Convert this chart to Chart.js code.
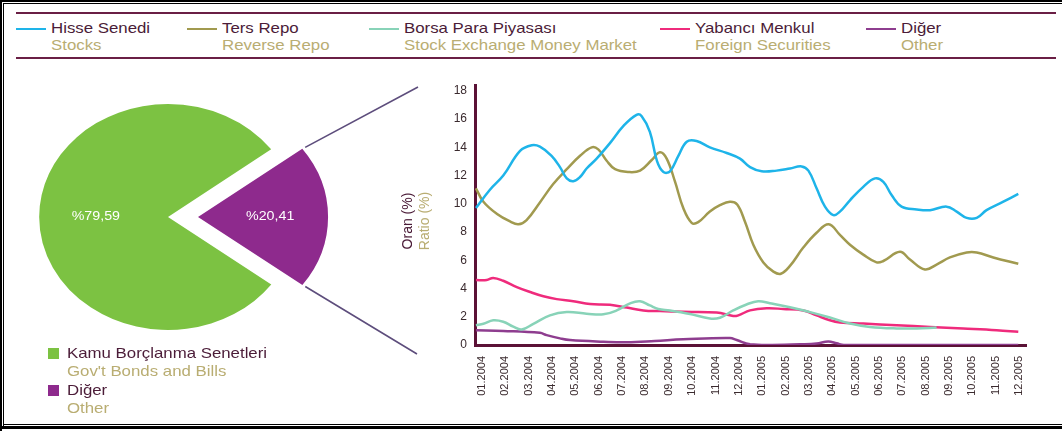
<!DOCTYPE html>
<html>
<head>
<meta charset="utf-8">
<script src="https://cdn.jsdelivr.net/npm/chart.js@4.4.1/dist/chart.umd.min.js"></script>
<style>
  body { margin: 0; background: #fff; font-family: "Liberation Sans", Arial, sans-serif; }
  #page { position: relative; width: 1062px; height: 431px; overflow: hidden; background: #fff; }
  .rule { position: absolute; background: #000; }
  .band { position: absolute; left: 16px; width: 1040px; height: 2px; background: #6a1f45; }
  .key { position: absolute; height: 2px; top: 28px; }
  .t1, .t2 { position: absolute; font-size: 14.5px; line-height: 17px; white-space: nowrap;
    transform: scaleX(1.16); transform-origin: 0 50%; }
  .t1 { color: #4b1c38; }
  .t2 { color: #b9ad72; }
  .sq { position: absolute; width: 11px; height: 11px; }
  #pieBox { position: absolute; left: 0; top: 70px; width: 430px; height: 290px; }
  #lineBox { position: absolute; left: 440px; top: 78px; width: 600px; height: 352px; }
  #yTitle { position: absolute; left: 416px; top: 221px; width: 120px; transform: translate(-50%, -50%) rotate(-90deg);
    text-align: center; font-size: 14px; line-height: 17px; }
</style>
</head>
<body>
<div id="page">
  <div class="rule" style="left:0;top:0;width:1062px;height:2px"></div>
  <div class="rule" style="left:3px;top:3px;width:1059px;height:1px"></div>
  <div class="rule" style="left:0;top:0;width:2px;height:431px"></div>
  <div class="rule" style="left:3px;top:3px;width:1px;height:424px"></div>
  <div class="rule" style="left:3px;top:424px;width:1059px;height:1px"></div>
  <div class="rule" style="left:0;top:426px;width:1062px;height:3px"></div>

  <div class="band" style="top:12px"></div>
  <div class="band" style="top:57px"></div>
  <div id="legend"></div>

  <div id="pieBox"><canvas id="pie"></canvas></div>
  <div id="pieLegend"></div>

  <div id="yTitle"><span style="color:#4b1c38">Oran (%)</span><br><span style="color:#b9ad72">Ratio (%)</span></div>
  <div id="lineBox"><canvas id="lines"></canvas></div>
</div>

<script>
// monthly tick labels
const months = [
  "01.2004", "02.2004", "03.2004", "04.2004", "05.2004", "06.2004",
  "07.2004", "08.2004", "09.2004", "10.2004", "11.2004", "12.2004",
  "01.2005", "02.2005", "03.2005", "04.2005", "05.2005", "06.2005",
  "07.2005", "08.2005", "09.2005", "10.2005", "11.2005", "12.2005",
];
const yTicks = [0, 2, 4, 6, 8, 10, 12, 14, 16, 18];

// [month position, ratio %] — month position 0 = 01.2004
const stocks = [
  [-0.26, 9.7], [0.34, 11.0], [0.91, 12.0], [1.63, 13.75], [2.13, 14.15], [2.48, 14.05],
  [2.98, 13.4], [3.34, 12.6], [3.63, 11.8], [3.91, 11.6], [4.2, 11.9], [4.48, 12.5],
  [4.91, 13.2], [5.48, 14.3], [6.05, 15.5], [6.62, 16.3], [6.84, 16.2], [7.19, 15.1],
  [7.5, 13.0], [7.77, 12.25], [8.05, 12.3], [8.41, 13.4], [8.77, 14.4], [9.19, 14.45],
  [9.76, 14.0], [10.48, 13.6], [11.05, 13.2], [11.48, 12.6], [11.98, 12.3], [12.62, 12.35],
  [13.19, 12.5], [13.69, 12.65], [13.98, 12.35], [14.33, 11.1], [14.69, 9.8], [15.05, 9.2],
  [15.33, 9.45], [15.76, 10.25], [16.33, 11.2], [16.83, 11.8], [17.19, 11.55], [17.55, 10.6],
  [17.97, 9.8], [18.62, 9.6], [19.19, 9.55], [19.9, 9.8], [20.33, 9.45], [20.76, 9.0],
  [21.19, 9.0], [21.61, 9.55], [22.33, 10.15], [22.97, 10.7],
];
const reverseRepo = [
  [-0.26, 11.1], [0.06, 10.15], [0.63, 9.3], [1.2, 8.75], [1.56, 8.55], [1.91, 8.85],
  [2.48, 10.1], [3.05, 11.4], [3.63, 12.45], [4.2, 13.4], [4.7, 14.0], [4.98, 13.85],
  [5.34, 13.05], [5.7, 12.45], [6.27, 12.25], [6.77, 12.35], [7.27, 13.1], [7.62, 13.65],
  [7.91, 13.2], [8.27, 11.55], [8.62, 9.7], [8.98, 8.65], [9.26, 8.7], [9.76, 9.45],
  [10.19, 9.9], [10.62, 10.15], [10.93, 9.95], [11.26, 8.75], [11.62, 7.1], [12.05, 5.85],
  [12.48, 5.2], [12.8, 5.05], [13.19, 5.6], [13.76, 6.9], [14.33, 7.95], [14.85, 8.55],
  [15.33, 7.8], [15.76, 7.1], [16.33, 6.4], [16.9, 5.85], [17.19, 5.95], [17.9, 6.6],
  [18.33, 6.05], [18.97, 5.35], [19.47, 5.7], [20.04, 6.2], [20.76, 6.55], [21.19, 6.55],
  [21.9, 6.2], [22.97, 5.75],
];
const moneyMarket = [
  [-0.26, 1.4], [0.06, 1.5], [0.48, 1.75], [0.91, 1.65], [1.34, 1.3], [1.7, 1.1],
  [2.2, 1.5], [2.91, 2.1], [3.63, 2.33], [4.48, 2.22], [5.2, 2.17], [5.77, 2.45],
  [6.34, 2.95], [6.77, 3.1], [7.19, 2.8], [7.55, 2.55], [8.05, 2.45], [8.91, 2.2],
  [9.76, 1.87], [10.19, 1.93], [10.76, 2.45], [11.33, 2.87], [11.83, 3.1], [12.33, 2.96],
  [13.19, 2.68], [14.05, 2.33], [14.9, 1.95], [15.76, 1.52], [16.62, 1.28], [17.76, 1.17],
  [18.62, 1.17], [19.47, 1.24],
];
const foreignSec = [
  [-0.26, 4.6], [0.2, 4.6], [0.48, 4.75], [0.91, 4.55], [1.49, 4.1], [2.06, 3.75],
  [2.63, 3.45], [3.2, 3.25], [3.91, 3.1], [4.63, 2.9], [5.48, 2.85], [6.2, 2.65],
  [6.91, 2.45], [7.62, 2.4], [8.62, 2.35], [10.05, 2.3], [10.76, 2.05], [10.98, 2.1],
  [11.48, 2.45], [12.19, 2.6], [12.9, 2.55], [13.76, 2.45], [14.33, 2.1], [14.9, 1.75],
  [15.33, 1.6], [16.33, 1.52], [17.76, 1.4], [19.19, 1.28], [20.61, 1.17], [22.04, 1.05],
  [22.97, 0.93],
];
const other = [
  [-0.26, 1.05], [0.91, 1.0], [2.48, 0.86], [2.77, 0.7], [3.34, 0.47], [3.77, 0.35],
  [5.2, 0.23], [6.2, 0.19], [7.4, 0.28], [8.62, 0.4], [10.62, 0.5], [10.91, 0.35],
  [11.48, 0.05], [12.19, 0], [13.62, 0.05], [14.33, 0.1], [14.83, 0.25], [15.19, 0.12],
  [15.5, 0], [22.97, 0],
];

// portfolio split shown in the pie
const pieNames = ["Kamu Borçlanma Senetleri", "Diğer"];
const pieNamesEn = ["Gov't Bonds and Bills", "Other"];
const pieValues = [79.59, 20.41];
const pieColors = ["#7cc242", "#8e2a8d"];

const series = [
  { tr: "Hisse Senedi", en: "Stocks", data: stocks, color: "#1eb4e9", text: 51 },
  { tr: "Ters Repo", en: "Reverse Repo", data: reverseRepo, color: "#a19a4f", text: 222 },
  { tr: "Borsa Para Piyasası", en: "Stock Exchange Money Market", data: moneyMarket, color: "#88d3b8", text: 404 },
  { tr: "Yabancı Menkul", en: "Foreign Securities", data: foreignSec, color: "#ef2b7c", text: 695 },
  { tr: "Diğer", en: "Other", data: other, color: "#8e3d8f", text: 901 },
];

// top legend: short line sample, Turkish name, English name
const legend = document.getElementById("legend");
series.forEach((s) => {
  legend.insertAdjacentHTML("beforeend",
    `<div class="key" style="left:${s.text - 35}px;width:30px;background:${s.color}"></div>` +
    `<div class="t1" style="left:${s.text}px;top:20px">${s.tr}</div>` +
    `<div class="t2" style="left:${s.text}px;top:37px">${s.en}</div>`);
});

// pie legend
const pieLegend = document.getElementById("pieLegend");
pieNames.forEach((name, i) => {
  const top = 345 + i * 37;
  pieLegend.insertAdjacentHTML("beforeend",
    `<div class="sq" style="left:48px;top:${top + 3}px;background:${pieColors[i]}"></div>` +
    `<div class="t1" style="left:67px;top:${top}px">${name}</div>` +
    `<div class="t2" style="left:67px;top:${top + 18}px">${pieNamesEn[i]}</div>`);
});

// the pie is drawn horizontally stretched into an ellipse
const pieStretch = 1.14;
const pieShift = 30;

const pieExtras = {
  id: "pieExtras",
  beforeDatasetsDraw(chart) {
    const ctx = chart.ctx;
    const cx = chart.getDatasetMeta(0).data[0].x;
    ctx.save();
    ctx.translate(cx, 0);
    ctx.scale(pieStretch, 1);
    ctx.translate(-cx, 0);
  },
  afterDatasetsDraw(chart) {
    const ctx = chart.ctx;
    ctx.restore();
    const arcs = chart.getDatasetMeta(0).data;
    const cx = arcs[0].x;
    const sx = (x) => cx + (x - cx) * pieStretch;
    ctx.save();
    arcs.forEach((arc, i) => {
      const mid = (arc.startAngle + arc.endAngle) / 2;
      const shift = (arc.options.offset || 0) / 4;
      const ox = arc.x + Math.cos(mid) * shift;
      const oy = arc.y + Math.sin(mid) * shift;
      const r = arc.outerRadius;

      const label = "%" + pieValues[i].toFixed(2).replace(".", ",");
      ctx.save();
      ctx.translate(sx(ox + Math.cos(mid) * r * 0.56), oy + Math.sin(mid) * r * 0.56);
      ctx.scale(pieStretch, 1);
      ctx.fillStyle = "#fff";
      ctx.font = "12.5px 'Liberation Sans', Arial, sans-serif";
      ctx.textAlign = "center";
      ctx.textBaseline = "middle";
      ctx.fillText(label, 0, 0);
      ctx.restore();

      if (i === 1) {
        const ax = sx(ox + Math.cos(arc.startAngle) * r), ay = oy + Math.sin(arc.startAngle) * r;
        const bx = sx(ox + Math.cos(arc.endAngle) * r), by = oy + Math.sin(arc.endAngle) * r;
        ctx.strokeStyle = "#5d4d7c";
        ctx.lineWidth = 1.6;
        ctx.beginPath();
        ctx.moveTo(ax + 4, ay - 2);
        ctx.lineTo(418, 17);
        ctx.moveTo(bx + 4, by + 2);
        ctx.lineTo(417, 284);
        ctx.stroke();
      }
    });
    ctx.restore();
  },
};

new Chart(document.getElementById("pie"), {
  type: "pie",
  data: {
    labels: pieNames,
    datasets: [{
      data: pieValues,
      backgroundColor: pieColors,
      borderWidth: 0,
      offset: [0, (4 * pieShift) / pieStretch],
      hoverOffset: 0,
    }],
  },
  options: {
    responsive: true,
    maintainAspectRatio: false,
    animation: false,
    radius: 113,
    rotation: 126.7,
    layout: { padding: { left: 0, top: 4, right: 94, bottom: 0 } },
    plugins: { legend: { display: false }, tooltip: { enabled: false } },
  },
  plugins: [pieExtras],
});

const axisColor = "#5b1236";
const tickFont = { family: "'Liberation Sans', Arial, sans-serif", size: 11 };

new Chart(document.getElementById("lines"), {
  type: "line",
  data: {
    datasets: series.map((s) => ({
      label: s.tr,
      data: s.data.map(([x, y]) => ({ x, y })),
      borderColor: s.color,
      borderWidth: 2.5,
      pointRadius: 0,
      tension: 0.4,
      fill: false,
    })),
  },
  options: {
    responsive: true,
    maintainAspectRatio: false,
    animation: false,
    layout: { padding: { left: 0, top: 4, right: 14, bottom: 0 } },
    plugins: { legend: { display: false }, tooltip: { enabled: false } },
    scales: {
      x: {
        type: "linear",
        min: -0.3,
        max: 23.3,
        afterBuildTicks: (scale) => { scale.ticks = months.map((_, i) => ({ value: i })); },
        afterFit: (scale) => { scale.height = 85; },
        grid: { display: false },
        border: { display: true, color: axisColor, width: 3 },
        ticks: {
          autoSkip: false,
          minRotation: 90,
          maxRotation: 90,
          padding: 3,
          color: "#3a2a2e",
          font: tickFont,
          callback: (v) => months[v],
        },
      },
      y: {
        min: 0,
        max: 18.4,
        afterBuildTicks: (scale) => { scale.ticks = yTicks.map((v) => ({ value: v })); },
        afterFit: (scale) => { scale.width = 35; },
        grid: { display: false },
        border: { display: true, color: axisColor, width: 3 },
        ticks: { padding: 0, color: "#3a2a2e", font: { ...tickFont, size: 12 } },
      },
    },
  },
});
</script>
</body>
</html>
